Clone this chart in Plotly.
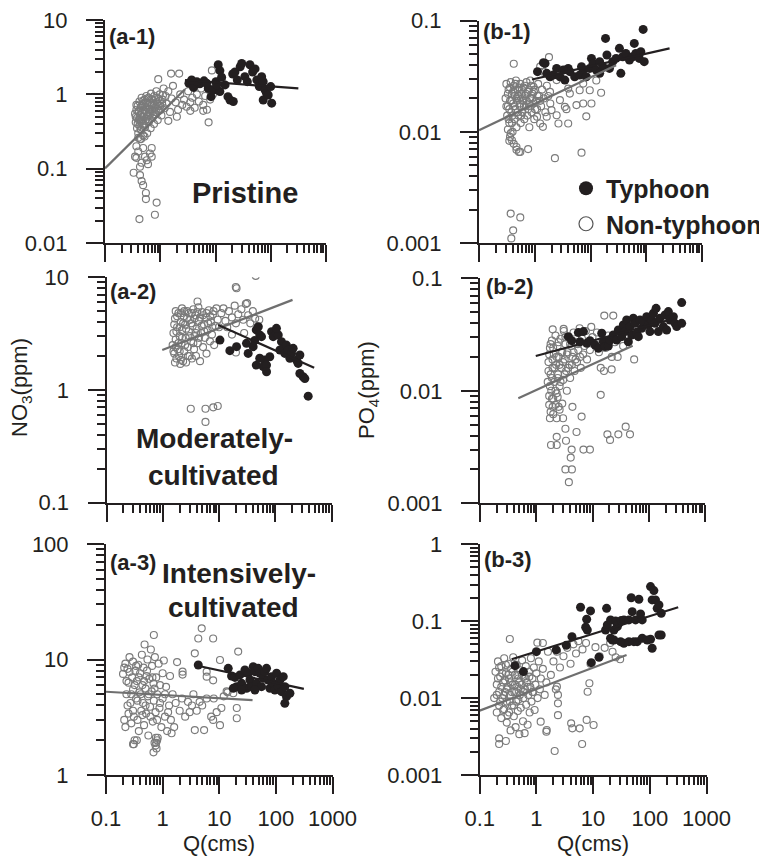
import plotly.graph_objects as go

# ------------------------------------------------------------------ data
# (Q [cms], concentration [ppm]) pairs

A1_NONTYPHOON = [
    (0.35, 0.55), (0.36, 0.42), (0.37, 0.62), (0.38, 0.35), (0.38, 0.48), (0.39, 0.70), (0.40, 0.30),
    (0.40, 0.58), (0.41, 0.45), (0.42, 0.80), (0.42, 0.38), (0.43, 0.52), (0.44, 0.66), (0.45, 0.33),
    (0.45, 0.44), (0.46, 0.90), (0.47, 0.57), (0.48, 0.74), (0.48, 0.40), (0.49, 0.28), (0.50, 0.62),
    (0.51, 0.50), (0.52, 0.85), (0.53, 0.36), (0.54, 0.68), (0.55, 0.46), (0.56, 0.95), (0.57, 0.58),
    (0.58, 0.30), (0.59, 0.76), (0.60, 0.52), (0.62, 0.42), (0.63, 0.88), (0.64, 0.64), (0.66, 0.55),
    (0.67, 0.35), (0.68, 1.02), (0.70, 0.72), (0.72, 0.48), (0.73, 0.60), (0.75, 0.82), (0.77, 0.40),
    (0.78, 0.95), (0.80, 0.66), (0.82, 0.54), (0.85, 1.10), (0.87, 0.75), (0.90, 0.45), (0.92, 0.88),
    (0.95, 0.60), (0.98, 1.00), (1.00, 0.70), (1.05, 0.52), (1.10, 0.85), (1.15, 1.20), (1.20, 0.65),
    (1.25, 0.95), (1.30, 0.75), (1.40, 1.10), (1.50, 0.58), (1.60, 0.88), (1.70, 1.30), (0.92, 1.60),
    (1.57, 1.90), (2.20, 1.90),
    (0.36, 0.50), (0.37, 0.72), (0.39, 0.40), (0.41, 0.60), (0.43, 0.46), (0.44, 0.34), (0.46, 0.70),
    (0.47, 0.50), (0.49, 0.82), (0.50, 0.38), (0.52, 0.60), (0.54, 0.44), (0.55, 0.78), (0.57, 0.66),
    (0.59, 0.50), (0.61, 0.90), (0.62, 0.58), (0.64, 0.46), (0.66, 0.76), (0.69, 0.62), (0.71, 0.86),
    (0.74, 0.52), (0.76, 0.70), (0.79, 0.58), (0.83, 0.90), (0.86, 0.64), (0.89, 0.78), (0.93, 0.70),
    (0.97, 0.82), (1.02, 0.62), (1.08, 0.75), (1.12, 0.98), (0.40, 0.26), (0.45, 0.25), (0.52, 0.27),
    (1.90, 0.78), (2.10, 0.62), (2.30, 1.00), (2.50, 0.72), (2.70, 0.85), (3.00, 0.68), (3.20, 1.10),
    (3.50, 0.78), (3.80, 0.90), (4.20, 0.66), (4.60, 1.00), (5.00, 0.80), (5.50, 1.20), (6.00, 0.72),
    (6.50, 0.95), (7.00, 0.62), (7.50, 0.42), (8.00, 1.30), (8.60, 2.10), (9.00, 1.00), (10.0, 1.40),
    (11.0, 1.15), (12.0, 1.30), (13.0, 1.60), (8.00, 0.85), (6.00, 0.60), (3.50, 0.60), (2.00, 0.50),
    (1.40, 0.44),
    (0.35, 0.145), (0.40, 0.17), (0.49, 0.19), (0.70, 0.19), (0.65, 0.16), (0.57, 0.13), (0.46, 0.12),
    (0.37, 0.14), (0.60, 0.115), (0.43, 0.106), (0.33, 0.088), (0.43, 0.082), (0.46, 0.068),
    (0.49, 0.060), (0.55, 0.047), (0.55, 0.039), (0.86, 0.035), (0.42, 0.021), (0.80, 0.024),
    (0.53, 0.145), (0.70, 0.145), (0.37, 0.20), (0.43, 0.25),
]
A1_TYPHOON = [
    (3.3, 1.41), (4.0, 1.24), (5.2, 1.39), (6.2, 1.52), (7.4, 1.20), (8.3, 0.93), (9.1, 1.14),
    (10.2, 1.48), (11.2, 2.50), (12.0, 2.08), (12.9, 1.70), (14.9, 1.34), (16.8, 0.93), (18.3, 0.84),
    (20.5, 1.88), (22.5, 2.00), (24.8, 1.56), (28.0, 2.35), (29.8, 2.60), (34.0, 1.73), (37.7, 1.48),
    (42.0, 2.50), (47.0, 2.00), (52.0, 2.20), (56.0, 1.56), (62.0, 1.27), (68.5, 1.73), (73.0, 1.48),
    (79.0, 1.14), (84.0, 1.03), (73.0, 0.84), (90.0, 0.98), (104.0, 0.76), (100.0, 1.27), (21.0, 0.80),
    (12.0, 1.09), (10.5, 1.34), (6.9, 1.41), (4.6, 1.48), (3.7, 1.56),
]
A1_FIT_NONTYPHOON = [(0.1, 0.101), (2.8, 1.17)]
A1_FIT_TYPHOON = [(2.8, 1.56), (316, 1.20)]

B1_NONTYPHOON = [
    (0.30, 0.020), (0.31, 0.027), (0.32, 0.014), (0.33, 0.017), (0.34, 0.024), (0.35, 0.012),
    (0.36, 0.019), (0.37, 0.028), (0.38, 0.015), (0.39, 0.022), (0.40, 0.010), (0.41, 0.018),
    (0.42, 0.026), (0.43, 0.013), (0.44, 0.021), (0.45, 0.016), (0.46, 0.029), (0.47, 0.011),
    (0.48, 0.019), (0.50, 0.024), (0.51, 0.014), (0.52, 0.020), (0.54, 0.017), (0.55, 0.027),
    (0.56, 0.012), (0.58, 0.022), (0.60, 0.015), (0.62, 0.019), (0.63, 0.025), (0.65, 0.013),
    (0.67, 0.021), (0.69, 0.017), (0.71, 0.028), (0.73, 0.014), (0.75, 0.023), (0.78, 0.018),
    (0.80, 0.011), (0.83, 0.020), (0.86, 0.026), (0.88, 0.015), (0.91, 0.022), (0.95, 0.018),
    (0.98, 0.013), (1.00, 0.024), (1.05, 0.019), (1.10, 0.016), (1.15, 0.027), (1.20, 0.021),
    (1.30, 0.017), (1.35, 0.024), (1.45, 0.020), (1.55, 0.015), (1.65, 0.026), (1.75, 0.021),
    (1.90, 0.018), (0.33, 0.0105), (0.36, 0.0090), (0.35, 0.0083), (0.42, 0.0078), (0.47, 0.0069),
    (0.31, 0.017), (0.33, 0.022), (0.34, 0.013), (0.36, 0.025), (0.38, 0.019), (0.40, 0.014),
    (0.41, 0.023), (0.43, 0.017), (0.45, 0.027), (0.47, 0.020), (0.49, 0.015), (0.50, 0.021),
    (0.53, 0.025), (0.55, 0.018), (0.57, 0.014), (0.59, 0.024), (0.61, 0.020), (0.64, 0.017),
    (0.66, 0.026), (0.69, 0.022), (0.72, 0.019), (0.76, 0.016), (0.79, 0.024), (0.84, 0.017),
    (0.90, 0.020), (0.96, 0.023), (1.02, 0.016), (1.12, 0.021), (1.25, 0.019), (0.35, 0.016),
    (0.39, 0.012), (0.44, 0.024),
    (0.42, 0.041), (1.80, 0.047), (0.37, 0.0097), (0.39, 0.0084), (0.47, 0.0073), (0.52, 0.0066),
    (0.55, 0.0066), (0.76, 0.0070), (2.30, 0.0058), (6.90, 0.0065), (0.37, 0.00184), (0.55, 0.0017),
    (0.41, 0.0013), (0.38, 0.0011),
    (2.66, 0.0119), (3.98, 0.0119), (8.4, 0.0138), (5.6, 0.0174), (7.4, 0.018), (10.4, 0.018),
    (15.5, 0.0225), (9.7, 0.0237), (12.7, 0.029), (6.4, 0.0237), (3.47, 0.0168), (3.7, 0.016),
    (2.47, 0.0141), (1.64, 0.0137), (1.25, 0.0119), (1.40, 0.0111), (1.10, 0.0137), (2.0, 0.0157),
    (2.83, 0.0193), (4.26, 0.0221), (1.88, 0.0229), (3.98, 0.0245), (7.4, 0.0272), (2.47, 0.0292),
    (1.43, 0.0348), (1.25, 0.0386), (0.95, 0.0254), (0.83, 0.029),
]
B1_TYPHOON = [
    (1.12, 0.0348), (1.43, 0.0419), (1.53, 0.0413), (1.64, 0.0336), (1.88, 0.0313), (2.15, 0.0324),
    (2.47, 0.0372), (2.83, 0.0313), (3.47, 0.0292), (3.98, 0.0372), (4.26, 0.0348), (5.2, 0.0313),
    (6.4, 0.0324), (7.4, 0.036), (8.4, 0.0313), (9.7, 0.0372), (10.4, 0.0458), (11.1, 0.0413),
    (12.7, 0.036), (14.6, 0.0428), (16.7, 0.0386), (18.6, 0.0693), (19.7, 0.0491), (21.9, 0.0372),
    (25.0, 0.0428), (28.8, 0.0458), (33.0, 0.0564), (37.8, 0.0474), (43.0, 0.0508), (50.0, 0.0443),
    (57.0, 0.0474), (61.0, 0.0625), (65.0, 0.0508), (75.0, 0.0458), (80.0, 0.0526), (88.0, 0.0835),
    (92.0, 0.0428), (35.0, 0.0336), (14.6, 0.0336), (6.9, 0.0386), (3.25, 0.036),
]
B1_FIT_NONTYPHOON = [(0.1, 0.01035), (28.8, 0.0398)]
B1_FIT_TYPHOON = [(0.89, 0.0296), (262, 0.0564)]

A2_NONTYPHOON = [
    (1.5, 2.5), (1.55, 3.2), (1.6, 2.1), (1.65, 4.3), (1.7, 2.8), (1.75, 1.9), (1.8, 3.6), (1.85, 2.3),
    (1.9, 4.8), (1.95, 2.0), (2.0, 3.0), (2.05, 1.7), (2.1, 4.0), (2.15, 2.6), (2.2, 3.4), (2.3, 1.8),
    (2.35, 4.5), (2.4, 2.2), (2.5, 3.8), (2.55, 2.9), (2.6, 1.75), (2.7, 5.0), (2.8, 2.4), (2.9, 3.3),
    (3.0, 2.0), (3.1, 4.2), (3.2, 2.7), (3.3, 1.9), (3.4, 3.7), (3.5, 5.2), (3.6, 2.3), (3.7, 3.0),
    (3.8, 4.6), (3.9, 2.0), (4.0, 3.5), (4.2, 2.6), (4.4, 4.1), (4.6, 1.8), (4.8, 3.2), (5.0, 4.9),
    (5.2, 2.4), (5.4, 3.8), (5.6, 2.9), (5.8, 4.4), (6.0, 2.1), (6.3, 3.4), (6.6, 5.1), (6.9, 2.7),
    (7.2, 4.0), (7.5, 3.1), (7.8, 4.7), (8.2, 2.5), (8.6, 3.7), (9.0, 5.3), (9.5, 4.2), (10.0, 3.6),
    (1.7, 5.0), (2.2, 5.3), (4.3, 5.4),
    (1.55, 2.2), (1.6, 3.8), (1.7, 2.4), (1.75, 3.3), (1.8, 4.5), (1.9, 2.6), (2.0, 3.6), (2.0, 2.2),
    (2.1, 4.8), (2.2, 2.9), (2.3, 3.9), (2.4, 5.0), (2.5, 2.5), (2.6, 3.5), (2.7, 4.3), (2.8, 2.0),
    (2.9, 4.8), (3.0, 3.0), (3.2, 3.9), (3.3, 4.8), (3.5, 2.6), (3.7, 4.3), (3.9, 3.2), (4.1, 4.9),
    (4.4, 2.9), (4.6, 4.4), (4.9, 3.7), (5.2, 4.6), (5.5, 3.3), (6.0, 4.8), (6.4, 3.9), (7.0, 4.5),
    (7.6, 3.6), (8.0, 5.0), (1.65, 1.75), (2.1, 1.85),
    (11, 4.8), (12, 5.3), (13, 4.1), (14, 3.6), (15, 5.0), (17, 4.4), (19, 5.6), (20, 3.9), (22, 4.7),
    (25, 5.2), (27, 4.2), (30, 5.8), (33, 4.6), (36, 3.9), (40, 5.0), (44, 4.3), (48, 3.6), (52, 4.2),
    (20, 2.15), (28, 3.2), (17, 3.1),
    (4.15, 6.1), (19.9, 8.2), (20.5, 8.0), (45, 10.3), (31.6, 5.9),
    (3.15, 0.68), (5.75, 0.68), (7.9, 0.70), (9.5, 0.72), (5.75, 0.52),
]
A2_TYPHOON = [
    (10.4, 2.77), (15.6, 2.23), (20.5, 2.42), (30.8, 2.59), (33, 2.11), (40.5, 2.42), (43, 2.74),
    (46, 3.41), (50, 3.64), (53, 3.07), (57, 2.97), (61, 1.61), (65, 1.84), (70, 1.66), (80, 1.97),
    (86, 3.29), (92, 2.97), (105, 3.18), (113, 3.07), (121, 2.26), (129, 2.68), (138, 2.34),
    (148, 2.11), (158, 2.5), (170, 2.26), (182, 1.91), (195, 2.11), (208, 2.34), (239, 1.84),
    (255, 1.72), (274, 2.04), (274, 1.40), (313, 1.31), (336, 1.26), (385, 0.88), (105, 3.52),
    (46, 1.66), (70, 1.45), (53, 1.91),
]
A2_FIT_NONTYPHOON = [(0.98, 2.26), (203, 6.3)]
A2_FIT_TYPHOON = [(9.7, 3.77), (492, 1.57)]

B2_NONTYPHOON = [
    (1.6, 0.012), (1.65, 0.018), (1.7, 0.009), (1.75, 0.024), (1.8, 0.014), (1.85, 0.010),
    (1.9, 0.028), (1.95, 0.016), (2.0, 0.0085), (2.05, 0.021), (2.1, 0.012), (2.2, 0.031),
    (2.25, 0.017), (2.3, 0.0095), (2.4, 0.025), (2.45, 0.014), (2.5, 0.020), (2.6, 0.011),
    (2.7, 0.029), (2.8, 0.016), (2.9, 0.022), (3.0, 0.0125), (3.1, 0.034), (3.2, 0.019),
    (3.3, 0.026), (3.4, 0.015), (3.5, 0.010), (3.6, 0.022), (3.8, 0.030), (3.9, 0.017),
    (4.0, 0.013), (4.2, 0.025), (4.4, 0.020), (4.6, 0.033), (4.8, 0.015), (5.0, 0.027),
    (5.3, 0.018), (5.6, 0.023), (5.9, 0.036), (6.2, 0.016), (6.5, 0.029), (6.8, 0.021),
    (7.2, 0.025), (7.6, 0.034), (8.0, 0.019), (8.5, 0.027), (9.0, 0.023), (9.5, 0.037),
    (10, 0.030), (11, 0.026), (12, 0.033), (13, 0.022), (15, 0.028), (17, 0.024), (19, 0.031),
    (22, 0.020), (25, 0.027), (30, 0.032), (35, 0.025), (40, 0.030), (14, 0.016), (16, 0.015),
    (28, 0.020), (2.2, 0.0075), (1.8, 0.0065), (2.6, 0.0068),
    (1.65, 0.015), (1.7, 0.021), (1.75, 0.011), (1.8, 0.026), (1.9, 0.013), (1.95, 0.019),
    (2.0, 0.024), (2.1, 0.016), (2.2, 0.010), (2.3, 0.020), (2.4, 0.013), (2.5, 0.027),
    (2.6, 0.017), (2.7, 0.012), (2.8, 0.022), (3.0, 0.018), (3.2, 0.014), (3.3, 0.030),
    (3.5, 0.021), (3.7, 0.016), (4.0, 0.026), (4.3, 0.017), (4.6, 0.022), (5.0, 0.019),
    (5.5, 0.026), (6.0, 0.020), (1.7, 0.0075), (1.9, 0.0085), (2.4, 0.0088), (2.0, 0.0062),
    (1.96, 0.0352), (3.07, 0.0355), (16.2, 0.0466), (23.4, 0.0466), (55, 0.019), (21.9, 0.0155),
    (14, 0.0092), (6.4, 0.0059), (5.2, 0.0043), (3.38, 0.0036), (4.26, 0.0030), (6.9, 0.0030),
    (9.0, 0.0030), (4.1, 0.00255), (3.3, 0.0020), (4.3, 0.0020), (3.8, 0.00154), (1.83, 0.0033),
    (2.31, 0.0033), (2.31, 0.0039), (3.3, 0.0046), (18.4, 0.0041), (20.5, 0.00366), (28.8, 0.0041),
    (38.9, 0.0048), (46.4, 0.0041), (1.75, 0.0057), (2.31, 0.0057), (3.0, 0.0057), (1.96, 0.0072),
    (2.5, 0.0072), (2.9, 0.0077), (4.4, 0.0072),
]
B2_TYPHOON = [
    (3.72, 0.0303), (4.26, 0.0279), (5.6, 0.0329), (6.9, 0.0336), (6.0, 0.0273), (7.9, 0.0264),
    (9.0, 0.0279), (11.1, 0.0255), (12.7, 0.0239), (14.6, 0.0325), (15.6, 0.0273), (16.7, 0.0247),
    (19.1, 0.0250), (20.5, 0.0283), (23.4, 0.0313), (26.9, 0.0283), (28.8, 0.0347), (33, 0.0303),
    (35.3, 0.0385), (37.8, 0.0336), (40.5, 0.0426), (43.4, 0.0273), (46.4, 0.0372), (49.7, 0.0313),
    (53.2, 0.0441), (57, 0.0398), (61, 0.0325), (65.3, 0.0303), (69.9, 0.0426), (74.8, 0.0359),
    (80, 0.0412), (92, 0.0456), (98, 0.0385), (105, 0.0336), (113, 0.0426), (121, 0.0489),
    (129, 0.0398), (135, 0.0541), (148, 0.0336), (158, 0.0441), (182, 0.0372), (195, 0.0472),
    (208, 0.0347), (223, 0.0506), (239, 0.0426), (274, 0.0456), (293, 0.0398), (314, 0.0372),
    (385, 0.0398), (385, 0.0608),
]
B2_FIT_NONTYPHOON = [(0.48, 0.00858), (51.8, 0.0251)]
B2_FIT_TYPHOON = [(0.98, 0.0204), (255, 0.0433)]

A3_NONTYPHOON = [
    (0.20, 7.5), (0.21, 3.0), (0.22, 9.2), (0.22, 2.6), (0.23, 5.0), (0.24, 8.3), (0.25, 3.4),
    (0.25, 6.3), (0.26, 10.5), (0.27, 4.2), (0.28, 2.8), (0.29, 7.0), (0.30, 9.6), (0.30, 5.5),
    (0.31, 3.2), (0.32, 2.0), (0.33, 8.0), (0.34, 4.6), (0.35, 6.5), (0.36, 3.0), (0.37, 9.0),
    (0.38, 2.4), (0.39, 5.2), (0.40, 7.6), (0.42, 3.6), (0.43, 11.0), (0.44, 6.0), (0.45, 4.2),
    (0.46, 8.5), (0.47, 2.7), (0.48, 13.5), (0.50, 5.6), (0.51, 3.4), (0.52, 7.2), (0.54, 10.0),
    (0.55, 4.8), (0.56, 2.2), (0.58, 6.8), (0.60, 3.9), (0.62, 12.2), (0.64, 5.3), (0.65, 8.8),
    (0.67, 2.9), (0.69, 6.2), (0.70, 4.4), (0.72, 1.9), (0.73, 10.5), (0.75, 3.5), (0.77, 7.0),
    (0.80, 5.0), (0.82, 2.1), (0.85, 9.2), (0.88, 3.8), (0.90, 6.0), (0.95, 2.6), (1.0, 4.6),
    (1.05, 9.8), (1.1, 3.2), (1.15, 5.8), (1.2, 2.4), (1.3, 4.0), (1.35, 7.2), (1.4, 3.0),
    (1.5, 5.0), (1.6, 2.6), (1.7, 4.2), (1.8, 9.5), (2.0, 3.6), (2.2, 4.6), (2.5, 3.2), (2.8, 4.3),
    (3.0, 3.5), (3.3, 4.0), (0.75, 1.8), (0.78, 1.7),
    (0.21, 8.5), (0.23, 6.5), (0.24, 4.0), (0.26, 7.8), (0.28, 5.0), (0.30, 3.6), (0.32, 6.0),
    (0.34, 8.8), (0.36, 4.4), (0.38, 7.0), (0.41, 5.0), (0.44, 3.3), (0.47, 6.5), (0.50, 4.0),
    (0.53, 8.0), (0.57, 5.0), (0.61, 3.2), (0.66, 7.0), (0.72, 5.6), (0.80, 3.0), (0.90, 4.2),
    (1.0, 7.6), (1.1, 5.0), (1.25, 3.5),
    (4.0, 3.6), (4.5, 4.3), (5.0, 4.0), (6.0, 4.6), (8.0, 4.6), (9.0, 3.5), (12, 4.8), (14, 5.2),
    (3.5, 5.0),
    (4.9, 18.6), (4.26, 15.2), (7.8, 15.2), (0.70, 16.3), (21.6, 11.7), (10.3, 9.9), (3.7, 11.3),
    (3.7, 2.45), (5.4, 2.45), (20.4, 3.8), (20.4, 3.1), (10.3, 2.7), (7.2, 3.2), (7.8, 3.0),
    (10.9, 3.8), (13.5, 5.3), (17.7, 5.1), (7.8, 6.6), (6.0, 7.85), (6.0, 7.1), (2.25, 7.85),
    (2.25, 7.4), (0.69, 1.57), (0.30, 1.85), (0.31, 1.85), (0.35, 2.0), (0.77, 1.9), (0.80, 2.0),
    (0.76, 2.1), (1.44, 2.3),
]
A3_TYPHOON = [
    (4.26, 8.96), (14.4, 8.39), (16.5, 7.2), (18.9, 7.0), (20.2, 5.82), (23.2, 7.35), (24.8, 6.22),
    (28.4, 8.12), (30.4, 5.63), (32.5, 7.6), (34.8, 6.65), (37.2, 5.82), (39.8, 8.67), (42.6, 7.85),
    (45.6, 6.22), (48.8, 8.39), (52.2, 7.6), (55.8, 5.82), (59.7, 6.88), (64, 7.85), (68.4, 8.39),
    (73.2, 6.65), (78.3, 5.63), (83.9, 7.1), (89.8, 6.22), (96, 5.45), (103, 7.6), (110, 5.82),
    (118, 6.65), (126, 5.27), (135, 7.1), (144, 5.82), (154, 4.77), (177, 5.1), (144, 4.17),
    (42.6, 5.45), (24.8, 5.45), (17.7, 5.63),
]
A3_FIT_NONTYPHOON = [(0.1, 5.26), (38.7, 4.45)]
A3_FIT_TYPHOON = [(3.62, 8.96), (312, 5.56)]

B3_NONTYPHOON = [
    (0.18, 0.010), (0.19, 0.022), (0.20, 0.0065), (0.20, 0.015), (0.21, 0.030), (0.22, 0.008),
    (0.22, 0.012), (0.23, 0.019), (0.24, 0.0055), (0.24, 0.026), (0.25, 0.010), (0.26, 0.016),
    (0.27, 0.0072), (0.27, 0.033), (0.28, 0.012), (0.29, 0.021), (0.30, 0.0048), (0.30, 0.009),
    (0.31, 0.014), (0.32, 0.028), (0.33, 0.0065), (0.33, 0.018), (0.34, 0.011), (0.35, 0.0038),
    (0.36, 0.024), (0.37, 0.008), (0.38, 0.015), (0.39, 0.034), (0.40, 0.0058), (0.41, 0.012),
    (0.42, 0.020), (0.43, 0.0042), (0.44, 0.009), (0.45, 0.027), (0.46, 0.014), (0.47, 0.0068),
    (0.48, 0.018), (0.50, 0.0034), (0.51, 0.011), (0.52, 0.023), (0.53, 0.0075), (0.55, 0.015),
    (0.56, 0.031), (0.58, 0.005), (0.59, 0.010), (0.60, 0.019), (0.62, 0.0035), (0.63, 0.013),
    (0.65, 0.026), (0.66, 0.0082), (0.68, 0.016), (0.70, 0.0045), (0.72, 0.011), (0.74, 0.022),
    (0.76, 0.0065), (0.78, 0.014), (0.80, 0.033), (0.82, 0.009), (0.85, 0.018), (0.88, 0.012),
    (0.90, 0.025), (0.93, 0.007), (0.96, 0.015), (1.0, 0.021), (1.05, 0.010), (1.1, 0.030),
    (1.15, 0.013), (1.2, 0.018), (1.3, 0.024), (1.4, 0.011), (1.5, 0.016),
    (0.20, 0.011), (0.21, 0.018), (0.22, 0.025), (0.23, 0.009), (0.24, 0.014), (0.25, 0.021),
    (0.26, 0.007), (0.27, 0.011), (0.28, 0.017), (0.29, 0.027), (0.30, 0.013), (0.31, 0.006),
    (0.32, 0.020), (0.34, 0.009), (0.35, 0.016), (0.37, 0.012), (0.38, 0.022), (0.40, 0.008),
    (0.42, 0.015), (0.44, 0.012), (0.46, 0.020), (0.48, 0.0095), (0.50, 0.016), (0.53, 0.013),
    (0.56, 0.020), (0.60, 0.012), (0.64, 0.018), (0.70, 0.014), (0.75, 0.019), (0.85, 0.012),
    (2.0, 0.030), (2.3, 0.040), (2.6, 0.025), (3.0, 0.035), (3.5, 0.045), (4.0, 0.028), (4.5, 0.050),
    (5.0, 0.038), (5.5, 0.055), (6.5, 0.043), (7.5, 0.052), (9.0, 0.028), (11, 0.046), (13, 0.035),
    (16, 0.045), (20, 0.052), (22, 0.040), (25, 0.034), (30, 0.032), (1.3, 0.052), (1.6, 0.040),
    (1.8, 0.020), (2.2, 0.013),
    (0.34, 0.0587), (1.04, 0.0526), (2.3, 0.0141), (2.4, 0.011), (2.4, 0.00855), (2.4, 0.0060),
    (1.19, 0.00494), (1.52, 0.00385), (1.5, 0.00366), (4.1, 0.0047), (4.3, 0.00404), (5.8, 0.00404),
    (7.7, 0.0052), (10.2, 0.00447), (8.6, 0.0156), (8.0, 0.0121), (6.4, 0.00253), (2.1, 0.00205),
    (0.22, 0.0030), (0.22, 0.00253), (0.29, 0.00277),
]
B3_TYPHOON = [
    (0.42, 0.0264), (0.59, 0.0221), (1.0, 0.0402), (2.24, 0.0423), (3.37, 0.0486), (4.24, 0.063),
    (6.0, 0.152), (7.4, 0.0833), (7.7, 0.106), (7.9, 0.0769), (9.0, 0.136), (9.3, 0.0289),
    (12.7, 0.034), (16.6, 0.0769), (17.3, 0.147), (17.8, 0.0893), (20.3, 0.104), (23.3, 0.0769),
    (24.9, 0.1007), (26.7, 0.085), (28.5, 0.094), (31.4, 0.102), (34.9, 0.104), (42.8, 0.104),
    (49, 0.133), (47, 0.202), (56.1, 0.104), (64.2, 0.193), (68.7, 0.124), (73.5, 0.104),
    (103, 0.282), (118, 0.25), (110, 0.189), (126, 0.189), (135, 0.147), (145, 0.163), (159, 0.127),
    (145, 0.0662), (159, 0.0662), (103, 0.0582), (110, 0.0445), (60, 0.0542), (52.4, 0.0542),
    (42.8, 0.0542), (34.9, 0.0516), (30.5, 0.0542), (23.3, 0.057), (21.8, 0.057), (20.3, 0.060),
    (73.5, 0.060), (90, 0.057),
]
B3_FIT_NONTYPHOON = [(0.1, 0.00687), (38.9, 0.0364)]
B3_FIT_TYPHOON = [(0.366, 0.032), (317, 0.152)]

X_TICKS = [0.1, 1, 10, 100, 1000]
X_TICK_TEXT = ["0.1", "1", "10", "100", "1000"]

# ------------------------------------------------------------------ layout / style
PAGE_OFF = 8                 # default page margin before the plot div
FW, FH = 767 - PAGE_OFF, 856 - PAGE_OFF
INK = "#231f20"
GRAY = "#7b7b7b"
FONT = "Liberation Sans, Arial, Helvetica, sans-serif"


def fx(px):
    return (px - PAGE_OFF) / FW


def fy(py):
    return 1 - (py - PAGE_OFF) / FH


def decade_text(v):
    return ("%g" % v)


panels = [
    dict(nt=A1_NONTYPHOON, ty=A1_TYPHOON, fnt=A1_FIT_NONTYPHOON, fty=A1_FIT_TYPHOON,
         ylog=(-2, 1), box=(105, 326, 20, 243), xlab=False),
    dict(nt=B1_NONTYPHOON, ty=B1_TYPHOON, fnt=B1_FIT_NONTYPHOON, fty=B1_FIT_TYPHOON,
         ylog=(-3, -1), box=(479, 702, 20.7, 243), xlab=False),
    dict(nt=A2_NONTYPHOON, ty=A2_TYPHOON, fnt=A2_FIT_NONTYPHOON, fty=A2_FIT_TYPHOON,
         ylog=(-1, 1), box=(106.5, 331.5, 277.3, 502.5), xlab=False),
    dict(nt=B2_NONTYPHOON, ty=B2_TYPHOON, fnt=B2_FIT_NONTYPHOON, fty=B2_FIT_TYPHOON,
         ylog=(-3, -1), box=(480, 705, 278.3, 503.3), xlab=False),
    dict(nt=A3_NONTYPHOON, ty=A3_TYPHOON, fnt=A3_FIT_NONTYPHOON, fty=A3_FIT_TYPHOON,
         ylog=(0, 2), box=(106, 332.5, 544, 775), xlab=True),
    dict(nt=B3_NONTYPHOON, ty=B3_TYPHOON, fnt=B3_FIT_NONTYPHOON, fty=B3_FIT_TYPHOON,
         ylog=(-3, 0), box=(479.7, 706.5, 544.3, 775), xlab=True),
]

fig = go.Figure()
layout = dict(
    width=FW, height=FH, margin=dict(l=0, r=0, t=0, b=0, autoexpand=False),
    paper_bgcolor="white", plot_bgcolor="rgba(0,0,0,0)",
    font=dict(family=FONT, color=INK),
    showlegend=True,
)

x_minor = [m * 10.0 ** e for e in range(-1, 3) for m in range(2, 10)]

for i, p in enumerate(panels, start=1):
    sfx = "" if i == 1 else str(i)
    xa, ya = "x" + sfx, "y" + sfx
    q, c = zip(*p["nt"])
    fig.add_trace(go.Scatter(x=q, y=c, mode="markers", xaxis=xa, yaxis=ya, showlegend=False,
                             marker=dict(symbol="circle-open", size=7, color=GRAY,
                                         line=dict(width=1.15, color=GRAY)),
                             hoverinfo="skip"))
    q, c = zip(*p["ty"])
    fig.add_trace(go.Scatter(x=q, y=c, mode="markers", xaxis=xa, yaxis=ya, showlegend=False,
                             marker=dict(symbol="circle", size=9, color=INK), hoverinfo="skip"))
    q, c = zip(*p["fnt"])
    fig.add_trace(go.Scatter(x=q, y=c, mode="lines", xaxis=xa, yaxis=ya, showlegend=False,
                             line=dict(color="#6f6f6f", width=2.2), hoverinfo="skip"))
    q, c = zip(*p["fty"])
    fig.add_trace(go.Scatter(x=q, y=c, mode="lines", xaxis=xa, yaxis=ya, showlegend=False,
                             line=dict(color=INK, width=2.2), hoverinfo="skip"))

    x0, x1, y0, y1 = p["box"]
    lo, hi = p["ylog"]
    yt = [10.0 ** e for e in range(lo, hi + 1)]
    y_minor = [m * 10.0 ** e for e in range(lo, hi) for m in range(2, 10)]
    common = dict(showgrid=False, zeroline=False, showline=True, linecolor=INK, linewidth=2,
                  ticks="outside", ticklen=17, tickwidth=2, tickcolor=INK, automargin=False,
                  ticklabeloverflow="allow",
                  tickfont=dict(family=FONT, size=22, color=INK))
    layout["xaxis" + sfx] = dict(
        type="log", range=[-1, 3], domain=[fx(x0), fx(x1)], anchor=ya,
        tickvals=X_TICKS, ticktext=X_TICK_TEXT, showticklabels=p["xlab"], ticklabelstandoff=6,
        minor=dict(tickvals=x_minor, ticklen=8, tickwidth=1.5, tickcolor=INK, ticks="outside",
                   showgrid=False),
        **common)
    layout["yaxis" + sfx] = dict(
        type="log", range=[lo, hi], domain=[fy(y1), fy(y0)], anchor=xa,
        tickvals=yt, ticktext=[decade_text(v) for v in yt], ticklabelstandoff=14,
        minor=dict(tickvals=y_minor, ticklen=8, tickwidth=1.5, tickcolor=INK, ticks="outside",
                   showgrid=False),
        **common)

# legend entries
fig.add_trace(go.Scatter(x=[None], y=[None], mode="markers", name="<b>Typhoon</b>",
                         marker=dict(symbol="circle", size=14, color=INK), xaxis="x2", yaxis="y2"))
fig.add_trace(go.Scatter(x=[None], y=[None], mode="markers", name="<b>Non-typhoon</b>",
                         marker=dict(symbol="circle-open", size=14, color="#555555",
                                     line=dict(width=1.2, color="#555555")), xaxis="x2", yaxis="y2"))
layout["legend"] = dict(x=fx(566), y=fy(206), xanchor="left", yanchor="middle",
                        font=dict(family=FONT, size=25, color=INK), bgcolor="rgba(0,0,0,0)",
                        itemsizing="trace", tracegroupgap=0, borderwidth=0)


def txt(text, x, y, size, bold=True, xanchor="center", angle=0):
    return dict(text=("<b>%s</b>" % text) if bold else text, x=fx(x), y=fy(y),
                xref="paper", yref="paper", xanchor=xanchor, yanchor="middle", showarrow=False,
                textangle=angle, font=dict(family=FONT, size=size, color=INK))


annotations = [
    txt("(a-1)", 107, 36, 22, xanchor="left"),
    txt("(b-1)", 481, 32, 22, xanchor="left"),
    txt("(a-2)", 108, 291, 22, xanchor="left"),
    txt("(b-2)", 484, 286, 22, xanchor="left"),
    txt("(a-3)", 108, 562, 22, xanchor="left"),
    txt("(b-3)", 482, 559, 22, xanchor="left"),
    txt("Pristine", 245, 193, 29),
    txt("Moderately-", 215, 438, 28),
    txt("cultivated", 213, 475, 28),
    txt("Intensively-", 239, 573, 28),
    txt("cultivated", 233, 607, 28),
    txt("NO<sub>3</sub>(ppm)", 21, 388, 22, bold=False, angle=-90),
    txt("PO<sub>4</sub>(ppm)", 368, 390, 22, bold=False, angle=-90),
    txt("Q(cms)", 219, 843, 22, bold=False),
    txt("Q(cms)", 593, 843, 22, bold=False),
]
layout["annotations"] = annotations

fig.update_layout(**layout)
fig.write_html("out.html")
